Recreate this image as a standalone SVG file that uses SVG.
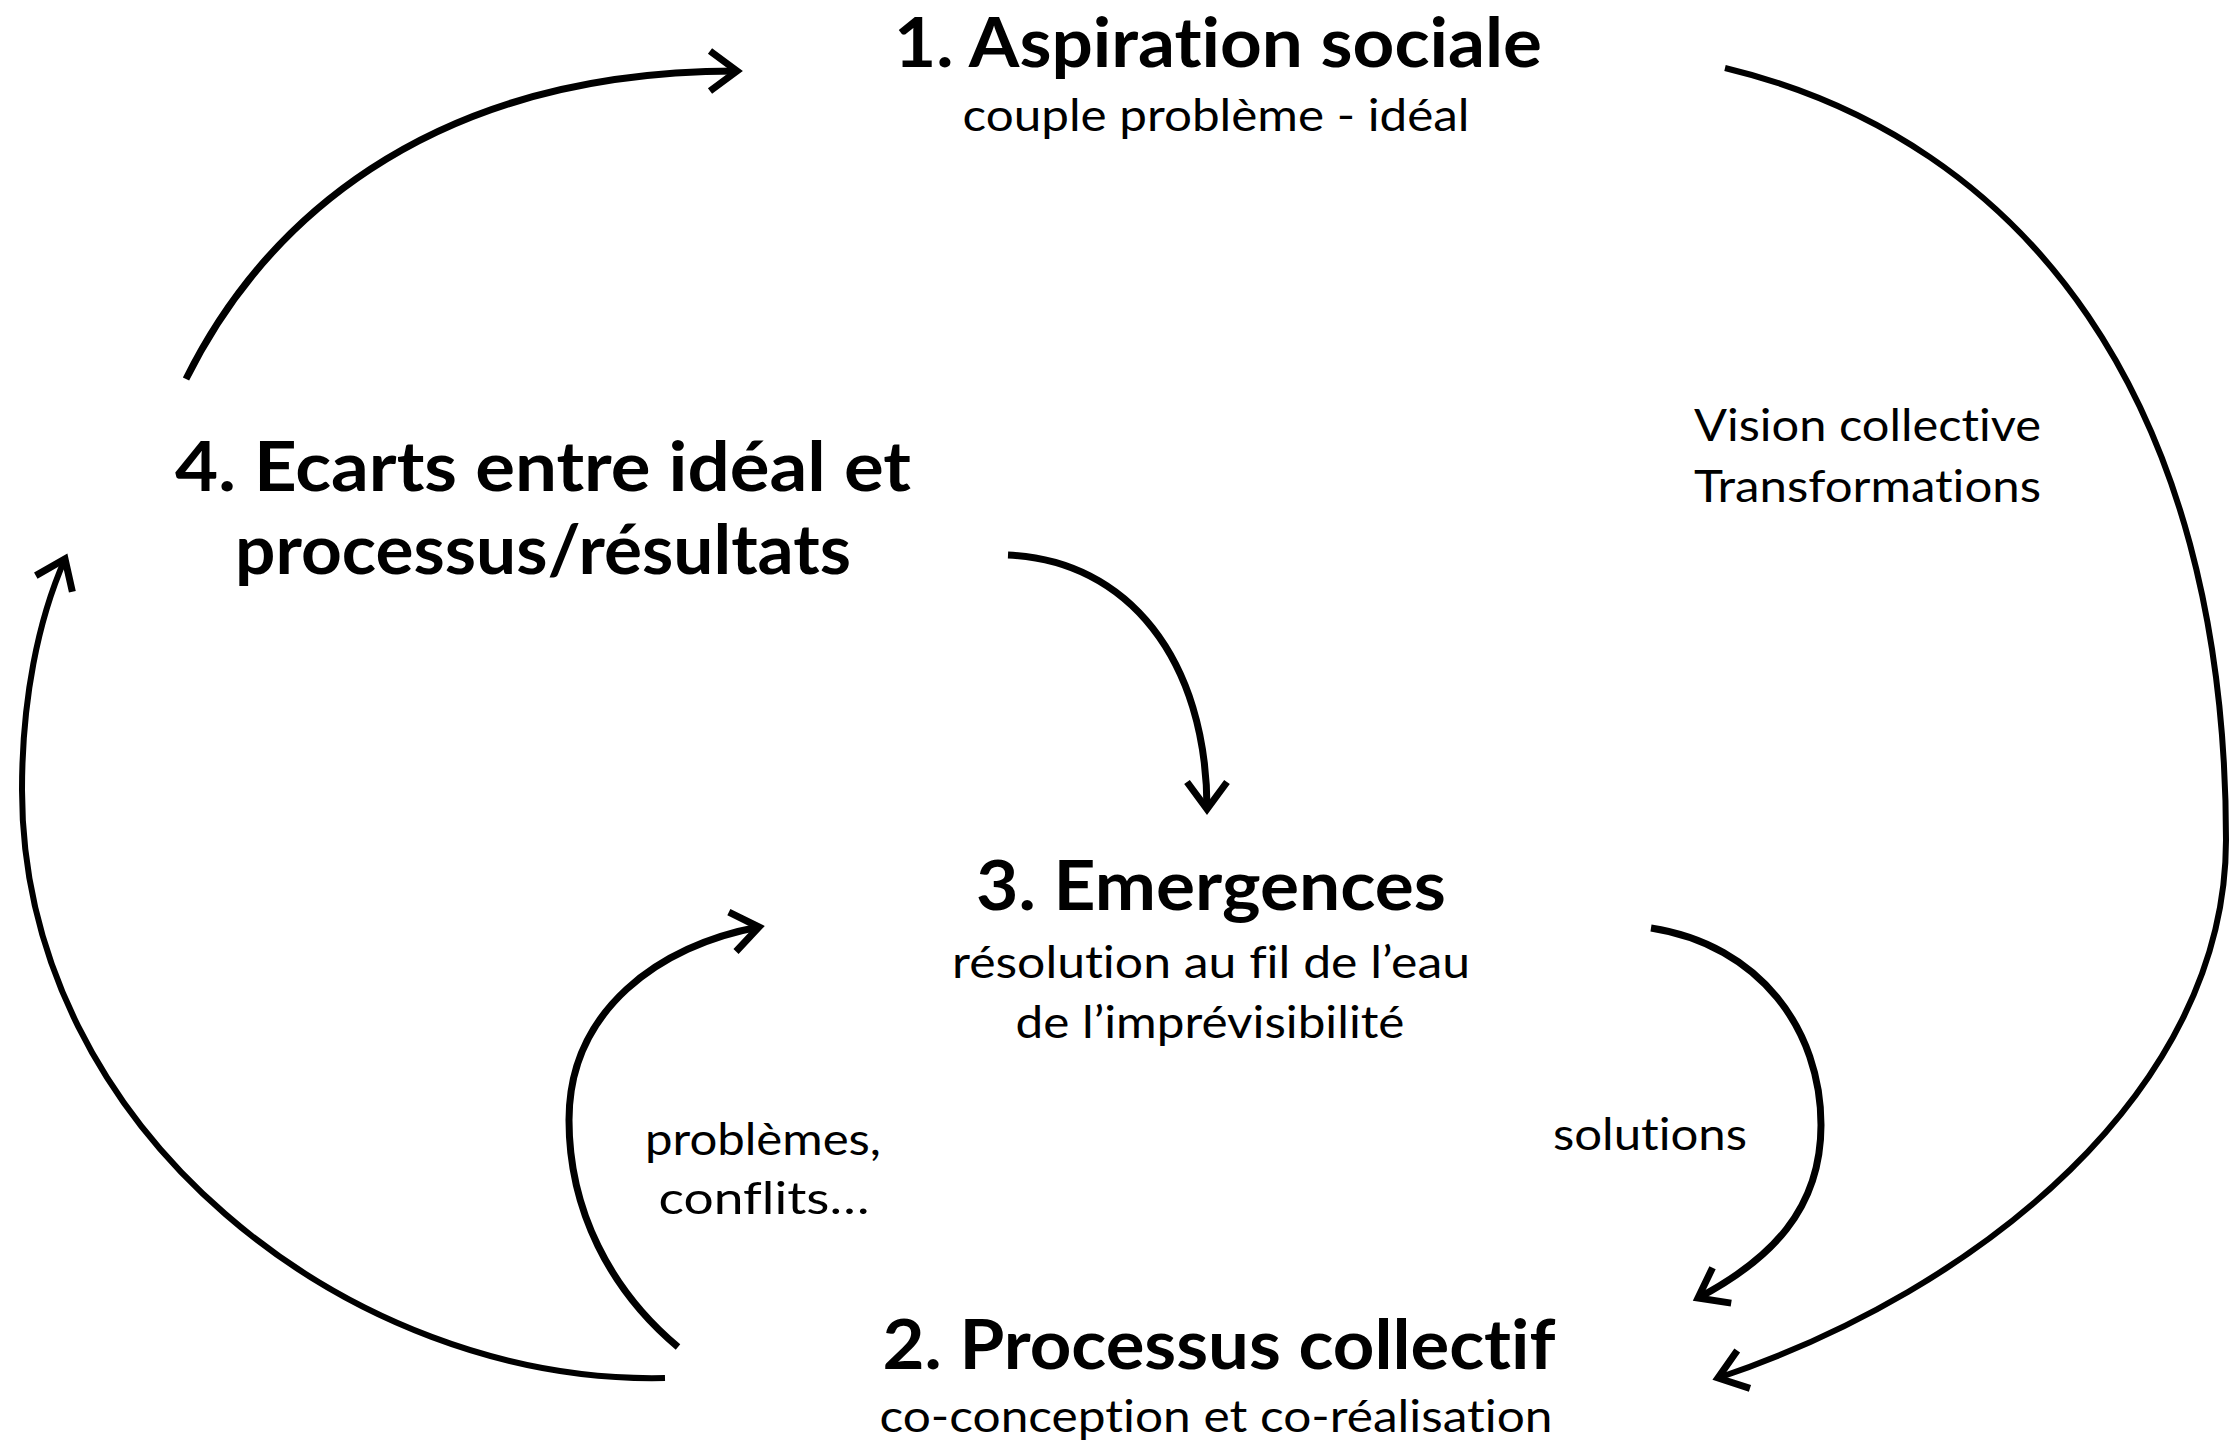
<svg xmlns="http://www.w3.org/2000/svg" width="2232" height="1443" viewBox="0 0 2232 1443">
<style>
text{font-variant-ligatures:none;font-feature-settings:"liga" 0,"dlig" 0}
.h{font-family:Lato,"Open Sans","Liberation Sans",sans-serif;font-weight:bold;font-size:68px;fill:#000;text-anchor:middle}
.s{font-family:Lato,"Open Sans","Liberation Sans",sans-serif;font-size:45px;fill:#000;text-anchor:middle}
.l{font-family:Lato,"Open Sans","Liberation Sans",sans-serif;font-size:45px;fill:#000}
.c{fill:none;stroke:#000;stroke-width:7}
.cb{fill:none;stroke:#000;stroke-width:6}
</style>
<defs>
<marker id="ah" markerUnits="userSpaceOnUse" markerWidth="60" markerHeight="60" viewBox="-40 -30 50 60" refX="0" refY="0" orient="auto" overflow="visible">
<path d="M-27,-20 L0,0 L-27,20" fill="none" stroke="#000" stroke-width="7" stroke-linejoin="miter"/>
</marker>
</defs>
<rect width="2232" height="1443" fill="#fff"/>
<g id="connectors">
<path class="c" d="M186,379 C260,230 420,71 737,71" marker-end="url(#ah)"/>
<path class="cb" d="M1725,68 C2025,140 2226,400 2226,840 C2226,1090 1980,1290 1718,1378" marker-end="url(#ah)"/>
<path class="cb" d="M665,1378 C350,1385 22,1130 22,790 C22,700 38,620 65,559" marker-end="url(#ah)"/>
<path class="c" d="M1008,555 C1128,560 1207,660 1207,809" marker-end="url(#ah)"/>
<path class="c" d="M678,1347 C610,1290 569,1210 569,1120 C569,1010 660,945 759,927" marker-end="url(#ah)"/>
<path class="c" d="M1651,928 C1760,945 1821,1030 1821,1125 C1821,1210 1770,1260 1698,1298" marker-end="url(#ah)"/>
</g>
<g id="node1">
<text class="h" x="1218" y="67" textLength="648" lengthAdjust="spacingAndGlyphs">1. Aspiration sociale</text>
<text class="s" x="1216" y="131" textLength="507" lengthAdjust="spacingAndGlyphs">couple problème - idéal</text>
</g>
<g id="node4">
<text class="h" x="543" y="491" textLength="736" lengthAdjust="spacingAndGlyphs">4. Ecarts entre idéal et</text>
<text class="h" x="543" y="574" textLength="616" lengthAdjust="spacingAndGlyphs">processus/résultats</text>
</g>
<g id="label-vision">
<text class="l" x="1694" y="441" textLength="347" lengthAdjust="spacingAndGlyphs">Vision collective</text>
<text class="l" x="1694" y="502" textLength="347" lengthAdjust="spacingAndGlyphs">Transformations</text>
</g>
<g id="node3">
<text class="h" x="1211" y="910" textLength="470" lengthAdjust="spacingAndGlyphs">3. Emergences</text>
<text class="s" x="1211" y="978" textLength="518" lengthAdjust="spacingAndGlyphs">résolution au fil de l’eau</text>
<text class="s" x="1210" y="1038" textLength="389" lengthAdjust="spacingAndGlyphs">de l’imprévisibilité</text>
</g>
<g id="label-problemes">
<text class="s" x="763" y="1155" textLength="236" lengthAdjust="spacingAndGlyphs">problèmes,</text>
<text class="s" x="764" y="1214" textLength="211" lengthAdjust="spacingAndGlyphs">conflits…</text>
</g>
<g id="label-solutions">
<text class="s" x="1650" y="1150" textLength="194" lengthAdjust="spacingAndGlyphs">solutions</text>
</g>
<g id="node2">
<text class="h" x="1219" y="1369" textLength="673" lengthAdjust="spacingAndGlyphs">2. Processus collectif</text>
<text class="s" x="1216" y="1432" textLength="673" lengthAdjust="spacingAndGlyphs">co-conception et co-réalisation</text>
</g>
</svg>
